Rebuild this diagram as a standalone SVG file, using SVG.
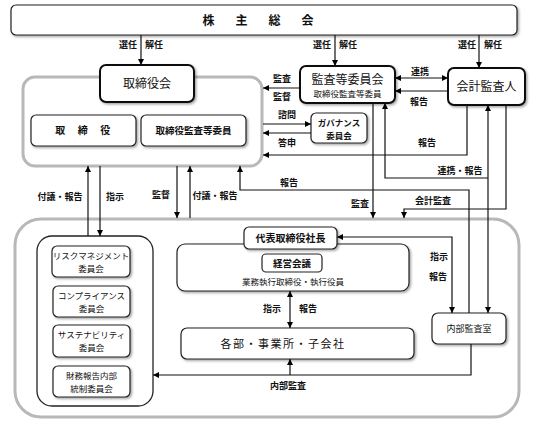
<svg xmlns="http://www.w3.org/2000/svg" width="533" height="422" viewBox="0 0 533 422">
<defs>
<filter id="sh" x="-10%" y="-10%" width="130%" height="140%"><feDropShadow dx="1.5" dy="1.5" stdDeviation="0.8" flood-color="#000" flood-opacity="0.35"/></filter>
<marker id="ah" viewBox="0 0 10 10" refX="10" refY="5" markerWidth="6" markerHeight="6" markerUnits="userSpaceOnUse" orient="auto-start-reverse"><path d="M0,0 L10,5 L0,10 Z" fill="#000"/></marker>
</defs>
<style>
text{font-family:"Noto Sans CJK JP","Noto Sans CJK SC",sans-serif;fill:#111;text-anchor:middle}
.lb{font-size:9px;font-weight:bold}
.box{fill:#fff;stroke:#222;stroke-width:1.2}
.bbox{fill:#fff;stroke:#111;stroke-width:2}
.grp{fill:#fff;stroke:#b8b8b8;stroke-width:3}
.ln{fill:none;stroke:#111;stroke-width:1.2}
.a{marker-end:url(#ah)}
.b{marker-start:url(#ah);marker-end:url(#ah)}
.s{marker-start:url(#ah)}
.t12{font-size:12px}
.t9{font-size:8.5px}
</style>

<g id="outer-exec"><rect class="grp" x="15" y="219" width="504" height="198" rx="26"/></g>
<g id="board-group"><rect class="grp" x="23" y="77" width="239" height="89" rx="12"/></g>

<g id="shareholders"><rect class="box" x="11" y="5" width="506" height="30" rx="5" filter="url(#sh)"/><text x="268.5" y="25" class="t12" font-weight="bold" letter-spacing="21">株主総会</text></g>

<g id="board"><rect class="bbox" x="100" y="65" width="94" height="37" rx="6" filter="url(#sh)"/><text x="147" y="88" class="t12">取締役会</text></g>
<g id="directors"><rect class="box" x="31" y="115" width="105" height="31" rx="5" filter="url(#sh)"/><text x="89" y="134" font-size="10" font-weight="bold" letter-spacing="12.5">取締役</text></g>
<g id="audit-directors"><rect class="box" x="141" y="115" width="105" height="31" rx="5" filter="url(#sh)"/><text x="193.5" y="134" font-size="9.5" font-weight="bold">取締役監査等委員</text></g>

<g id="audit-committee"><rect class="bbox" x="300" y="66" width="95" height="37" rx="6" filter="url(#sh)"/><text x="347.5" y="84" class="t12">監査等委員会</text><text x="347.5" y="97" font-size="8.5">取締役監査等委員</text></g>
<g id="accounting-auditor"><rect class="bbox" x="448" y="68" width="77" height="37" rx="6" filter="url(#sh)"/><text x="486.5" y="91" class="t12">会計監査人</text></g>
<g id="governance"><rect class="box" x="311" y="113" width="56" height="30" rx="5" filter="url(#sh)"/><text x="339" y="126" class="t9" font-weight="bold">ガバナンス</text><text x="339" y="139" class="t9" font-weight="bold">委員会</text></g>

<g id="committee-group"><rect x="37" y="236" width="116" height="170" rx="15" fill="#fff" stroke="#222" stroke-width="1.3"/></g>
<g id="risk"><rect class="box" x="52" y="246" width="78" height="31" rx="5" filter="url(#sh)"/><text x="91" y="259" class="t9">リスクマネジメント</text><text x="91" y="272" class="t9">委員会</text></g>
<g id="compliance"><rect class="box" x="53" y="286" width="77" height="31" rx="5" filter="url(#sh)"/><text x="91.5" y="299" class="t9">コンプライアンス</text><text x="91.5" y="312" class="t9">委員会</text></g>
<g id="sustainability"><rect class="box" x="53" y="325" width="77" height="32" rx="5" filter="url(#sh)"/><text x="91.5" y="338" class="t9">サステナビリティ</text><text x="91.5" y="351" class="t9">委員会</text></g>
<g id="ic-fin"><rect class="box" x="53" y="366" width="77" height="31" rx="5" filter="url(#sh)"/><text x="91.5" y="379" class="t9">財務報告内部</text><text x="91.5" y="392" class="t9">統制委員会</text></g>

<g id="mgmt-group"><rect class="box" x="177" y="244" width="232" height="47" rx="8" filter="url(#sh)"/><text x="293" y="285" class="t9" fill="#333">業務執行取締役・執行役員</text></g>
<g id="ceo"><rect class="box" x="244" y="227" width="93" height="22" rx="5" filter="url(#sh)"/><text x="290.5" y="242" font-size="10" font-weight="bold">代表取締役社長</text></g>
<g id="mgmt-meeting"><rect class="box" x="262" y="254" width="60" height="18" rx="4"/><text x="292" y="267" font-size="9.5" font-weight="bold">経営会議</text></g>
<g id="divisions"><rect class="box" x="181" y="328" width="233" height="31" rx="6" filter="url(#sh)"/><text x="283" y="348" font-size="11" letter-spacing="1.5">各部・事業所・子会社</text></g>
<g id="internal-audit"><rect class="box" x="432" y="313" width="74" height="31" rx="6" filter="url(#sh)"/><text x="469" y="332" font-size="9">内部監査室</text></g>

<g id="connectors">
<line class="ln a" x1="141" y1="35" x2="141" y2="65"/>
<line class="ln a" x1="335" y1="35" x2="335" y2="66"/>
<line class="ln a" x1="479" y1="35" x2="479" y2="68"/>
<line class="ln a" x1="300" y1="88" x2="263" y2="88"/>
<line class="ln b" x1="395" y1="78" x2="448" y2="78"/>
<line class="ln a" x1="448" y1="91" x2="395" y2="91"/>
<line class="ln a" x1="263" y1="124" x2="311" y2="124"/>
<line class="ln a" x1="311" y1="133" x2="263" y2="133"/>
<polyline class="ln a" points="467,105 467,155 263,155"/>
<polyline class="ln s" points="385,103 385,178 488,178"/>
<line class="ln b" x1="488" y1="105" x2="488" y2="313"/>
<polyline class="ln a" points="506,105 506,209 404,209 404,218"/>
<line class="ln a" x1="373" y1="103" x2="373" y2="218"/>
<polyline class="ln a" points="469,313 469,190 240,190 240,166"/>
<line class="ln a" x1="88" y1="236" x2="88" y2="166"/>
<line class="ln a" x1="100" y1="166" x2="100" y2="236"/>
<line class="ln a" x1="177" y1="166" x2="177" y2="218"/>
<line class="ln a" x1="190" y1="218" x2="190" y2="166"/>
<polyline class="ln b" points="337,237 452,237 452,313"/>
<line class="ln b" x1="290" y1="291" x2="290" y2="328"/>
<polyline class="ln a" points="471,344 471,375 153,375"/>
<line class="ln a" x1="290" y1="375" x2="290" y2="359"/>
</g>

<g id="labels">
<text class="lb" x="128" y="48">選任</text><text class="lb" x="154" y="48">解任</text>
<text class="lb" x="322" y="48">選任</text><text class="lb" x="348" y="48">解任</text>
<text class="lb" x="467" y="48">選任</text><text class="lb" x="493" y="48">解任</text>
<text class="lb" x="282" y="82">監査</text><text class="lb" x="282" y="100">監督</text>
<text class="lb" x="420" y="75">連携</text><text class="lb" x="419" y="105">報告</text>
<text class="lb" x="287" y="118">諮問</text><text class="lb" x="287" y="146">答申</text>
<text class="lb" x="427" y="146">報告</text>
<text class="lb" x="460" y="174">連携・報告</text>
<text class="lb" x="289" y="186">報告</text>
<text class="lb" x="360" y="207">監査</text>
<text class="lb" x="433" y="204">会計監査</text>
<text class="lb" x="60" y="200">付議・報告</text><text class="lb" x="115" y="200">指示</text>
<text class="lb" x="161" y="198">監督</text><text class="lb" x="215" y="199">付議・報告</text>
<text class="lb" x="439" y="260">指示</text><text class="lb" x="438" y="280">報告</text>
<text class="lb" x="272" y="312">指示</text><text class="lb" x="308" y="312">報告</text>
<text class="lb" x="288" y="389">内部監査</text>
</g>
</svg>
